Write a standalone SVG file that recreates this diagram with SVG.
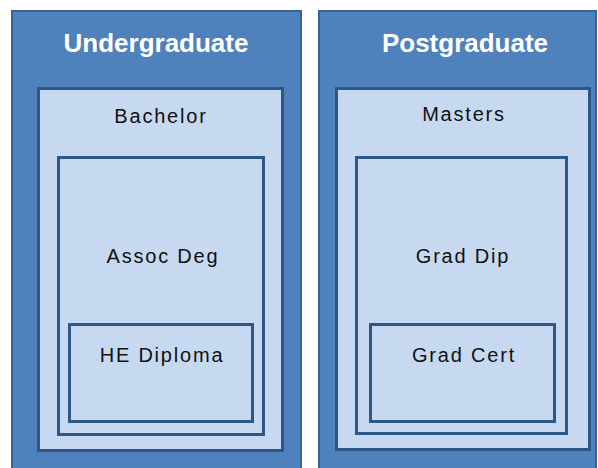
<svg xmlns="http://www.w3.org/2000/svg" width="598" height="468" viewBox="0 0 598 468">
<style>
.outer{fill:#4f81bd;stroke:#3a6395;stroke-width:2}
.inner{fill:#c6d9f1;stroke:#2b5789;stroke-width:3}
.h{font-family:"Liberation Sans",Arial,sans-serif;font-weight:bold;font-size:26px;fill:#ffffff;text-anchor:middle}
.t{font-family:"Liberation Sans",Arial,sans-serif;font-size:20px;fill:#111111;text-anchor:middle;letter-spacing:1.8px}
</style>
<rect width="598" height="468" fill="#ffffff"/>
<g id="undergraduate">
<rect class="outer" x="12" y="11" width="289" height="470"/>
<text class="h" x="156" y="52">Undergraduate</text>
</g>
<g id="bachelor">
<rect class="inner" x="38.5" y="88.5" width="244" height="362"/>
<text class="t" x="161" y="123">Bachelor</text>
</g>
<g id="assoc-deg">
<rect class="inner" x="58.5" y="157.5" width="205" height="277"/>
<text class="t" x="163" y="263">Assoc Deg</text>
</g>
<g id="he-diploma">
<rect class="inner" x="69.5" y="324.5" width="183" height="97"/>
<text class="t" x="162" y="362">HE Diploma</text>
</g>
<g id="postgraduate">
<rect class="outer" x="319" y="11" width="277" height="470"/>
<text class="h" x="465" y="52">Postgraduate</text>
</g>
<g id="masters">
<rect class="inner" x="336.5" y="88.5" width="253" height="361"/>
<text class="t" x="464" y="121">Masters</text>
</g>
<g id="grad-dip">
<rect class="inner" x="356.5" y="157.5" width="210" height="276"/>
<text class="t" x="463" y="263">Grad Dip</text>
</g>
<g id="grad-cert">
<rect class="inner" x="370.5" y="324.5" width="184" height="97"/>
<text class="t" x="464" y="362">Grad Cert</text>
</g>
<g id="connectors"/>
</svg>
